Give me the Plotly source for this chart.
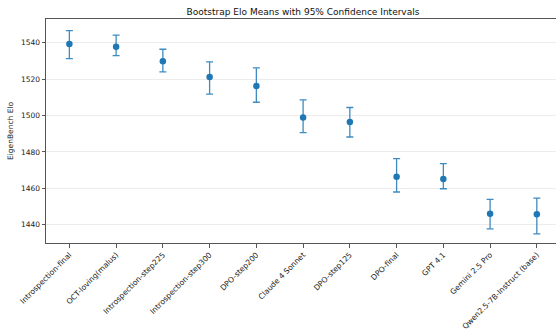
import plotly.graph_objects as go

models = ["Introspection-final", "OCT-loving(malus)", "Introspection-step225", "Introspection-step300",
          "DPO-step200", "Claude 4 Sonnet", "DPO-step125", "DPO-final", "GPT 4.1",
          "Gemini 2.5 Pro", "Qwen2.5-7B-Instruct (base)"]
means = [1539.3, 1537.8, 1529.8, 1521.1, 1516.2, 1498.9, 1496.5, 1466.4, 1465.1, 1446.1, 1445.8]
ci_upper = [1546.6, 1544.2, 1536.4, 1529.5, 1526.2, 1508.6, 1504.4, 1476.3, 1473.6, 1453.9, 1454.6]
ci_lower = [1531.2, 1532.9, 1524.0, 1511.8, 1507.3, 1490.6, 1488.2, 1458.0, 1459.8, 1437.8, 1435.0]
y_ticks = [1440, 1460, 1480, 1500, 1520, 1540]

err_plus = [u - m for u, m in zip(ci_upper, means)]
err_minus = [m - l for m, l in zip(means, ci_lower)]
xs = list(range(len(models)))

FONT = "DejaVu Sans"
fig = go.Figure()
fig.add_trace(go.Scatter(
    x=xs, y=means, mode="markers",
    marker=dict(color="#1f77b4", size=6.5),
    error_y=dict(type="data", symmetric=False, array=err_plus, arrayminus=err_minus,
                 color="rgba(31,119,180,0.85)", thickness=1.3, width=3.5),
    showlegend=False,
))
fig.update_layout(
    width=556, height=333,
    margin=dict(l=46, r=0, t=19, b=90),
    paper_bgcolor="white", plot_bgcolor="white",
    font=dict(family=FONT, size=7.5, color="#222"),
    title=dict(text="Bootstrap Elo Means with 95% Confidence Intervals",
               font=dict(family=FONT, size=9, color="#111"),
               x=0.545, xanchor="center", y=0.963, yanchor="middle"),
)
fig.update_xaxes(
    range=[-0.5, 10.41], tickmode="array", tickvals=xs, ticktext=models,
    tickangle=-45, ticks="outside", ticklen=3.5, tickcolor="#555", tickwidth=0.8,
    showline=True, linecolor="#555", linewidth=1, mirror=True,
    showgrid=False, zeroline=False, tickfont=dict(size=7.6, color="#222"),
    automargin=False,
)
fig.update_yaxes(
    range=[1430, 1553], tickmode="array", tickvals=y_ticks,
    ticks="outside", ticklen=3.5, tickcolor="#555", tickwidth=0.8,
    showline=True, linecolor="#555", linewidth=1,
    showgrid=True, gridcolor="#ececec", gridwidth=1, zeroline=False,
    tickfont=dict(size=7.5, color="#222"), automargin=False,
    title=dict(text="EigenBench Elo", font=dict(size=7.5, color="#222"), standoff=6),
)
fig.write_html("out.html", config={"displayModeBar": False},
               post_script="document.body.style.margin='0';document.body.style.padding='0';document.body.style.overflow='hidden';")
